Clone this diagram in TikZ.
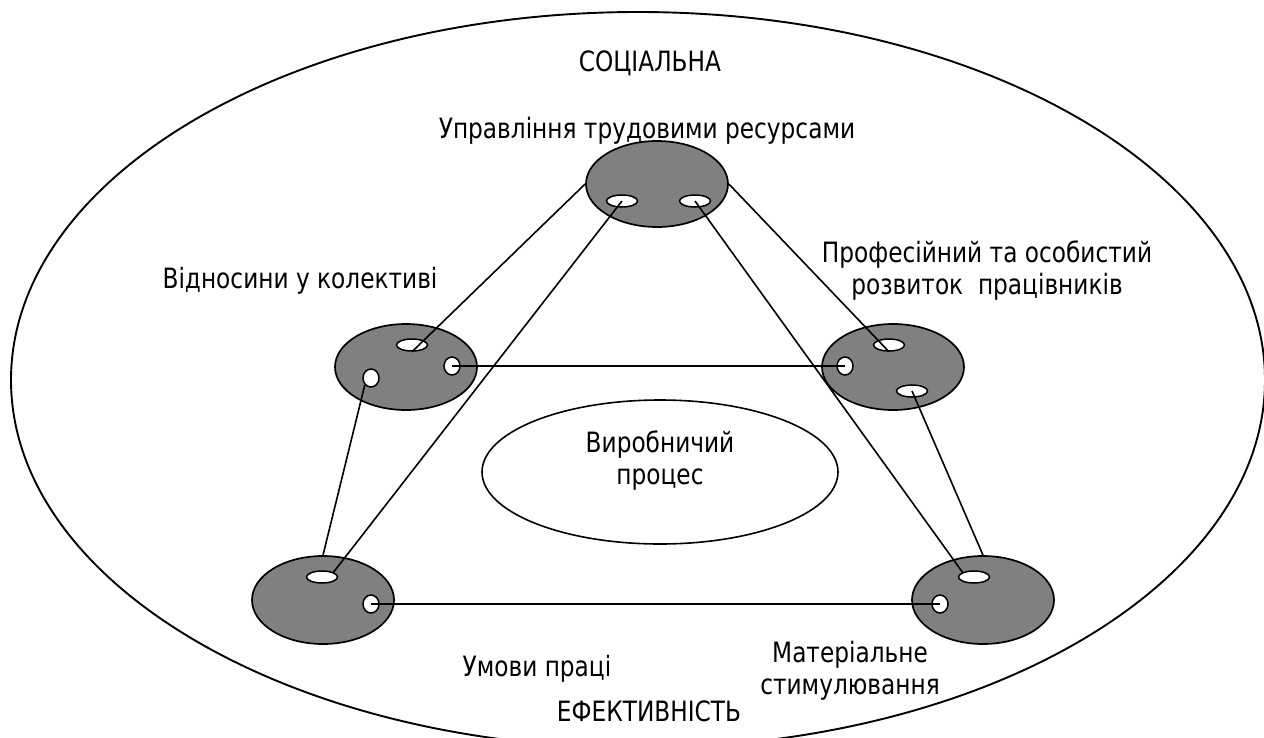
\documentclass[tikz,border=0pt]{standalone}
\usepackage{fontspec}
\setmainfont{DejaVu Sans}[FakeStretch=0.83]
\usetikzlibrary{shapes.geometric}
\begin{document}
\begin{tikzpicture}[x=1pt,y=-1pt,
  blob/.style={ellipse, draw, line width=1.7pt, fill=gray, minimum width=142pt, minimum height=86pt, inner sep=0pt},
  hole/.style={ellipse, draw, line width=1.5pt, fill=white, inner sep=0pt},
  hh/.style={hole, minimum width=31pt, minimum height=12pt},
  hv/.style={hole, minimum width=16pt, minimum height=18pt},
  link/.style={line width=1.6pt},
  lbl/.style={font=\fontsize{28}{32}\selectfont, inner sep=0pt, align=center}]
\clip (0,0) rectangle (1264,737);
% outer and centre ellipses
\node[ellipse, draw, line width=1.9pt, minimum width=1254pt, minimum height=736pt, inner sep=0pt] (outer) at (638,380) {};
\node[ellipse, draw, line width=1.6pt, minimum width=356pt, minimum height=144pt, inner sep=0pt] (core) at (660,472) {};
% grey blobs
\node[blob] (top) at (657,184) {};
\node[blob] (lm) at (406,367) {};
\node[blob] (rm) at (893,367) {};
\node[blob, minimum height=88pt] (lb) at (323,600) {};
\node[blob, minimum height=88pt] (rb) at (983,600) {};
% holes
\node[hh] (t1) at (622,201) {};
\node[hh] (t2) at (695,201) {};
\node[hh] (lm1) at (412,345) {};
\node[hv] (lm2) at (452,366) {};
\node[hv] (lm3) at (371,378) {};
\node[hh] (rm1) at (889,345) {};
\node[hv] (rm2) at (845,366) {};
\node[hh] (rm3) at (912,391) {};
\node[hh] (lb1) at (322,577) {};
\node[hv] (lb2) at (371,604) {};
\node[hh] (rb1) at (974,577) {};
\node[hv] (rb2) at (940,604) {};
% connectors
\draw[link] (top.west) -- (lm1.south);
\draw[link] (t1.center) -- (lb1.north east);
\draw[link] (t2.center) -- (rb1.north west);
\draw[link] (top.east) -- (rm1.south);
\draw[link] (lm2.center) -- (rm2.center);
\draw[link] (lm3.south west) -- (lb.north);
\draw[link] (rm3.center) -- (rb.north);
\draw[link] (lb2.center) -- (rb2.center);
% labels
\node[lbl, anchor=base] (soc) at (650,71) {СОЦІАЛЬНА};
\node[lbl, anchor=base] (upr) at (647,138) {Управління трудовими ресурсами};
\node[lbl, anchor=base] (vid) at (300,288) {Відносини у колективі};
\node[lbl] (prof) at (987,271) {Професійний та особистий\\розвиток~~працівників};
\node[lbl] (vyr) at (660,461) {Виробничий\\процес};
\node[lbl, anchor=base] (umo) at (537,676) {Умови праці};
\node[lbl] (mat) at (850,671) {Матеріальне\\стимулювання};
\node[lbl, anchor=base] (efe) at (649,721) {ЕФЕКТИВНІСТЬ};
\end{tikzpicture}
\end{document}
